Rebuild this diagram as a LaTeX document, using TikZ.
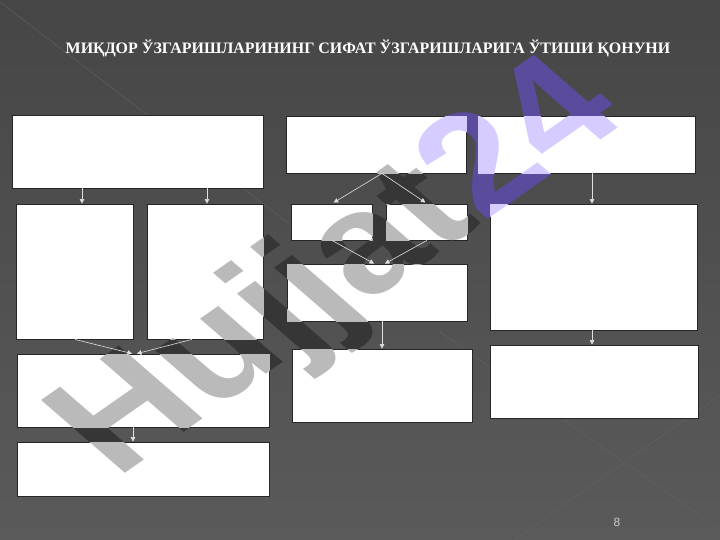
\documentclass[tikz,border=0pt]{standalone}
\usepackage{fontspec}
\setmainfont{Liberation Serif}
\newfontfamily\sansfont{Liberation Sans}
\usetikzlibrary{arrows.meta}
\definecolor{bgtop}{HTML}{464646}
\definecolor{bgbot}{HTML}{5A5A5A}
\definecolor{facet}{HTML}{636363}
\definecolor{wmdark}{HTML}{363636}
\definecolor{wmlight}{HTML}{BABABA}
\definecolor{wmvdark}{HTML}{5A4B9C}
\definecolor{wmvlight}{HTML}{D6CCFF}
\tikzset{
  box/.style 2 args={draw=black!85, fill=white, line width=0.8bp, inner sep=0pt,
    minimum width=#1bp, minimum height=#2bp},
  arr/.style={draw=white!88!black, line width=0.6bp,
    -{Triangle[length=4.5bp,width=4.5bp]}},
  wm/.style={cm={0.819,0.574,-0.755,0.656,(0,0)}, inner sep=0pt,
    font=\sansfont\bfseries\fontsize{162}{162}\selectfont},
}
\newcommand\wmtext[2]{{\color{#1}Hujjat}{\color{#2}24}}
\begin{document}
\begin{tikzpicture}[x=1bp,y=-1bp]
\useasboundingbox (0,0) rectangle (720,540);
\shade[top color=bgtop, bottom color=bgbot] (0,0) rectangle (720,540);
\draw[facet] (0,2) -- (300,232);
\draw[facet] (514,540) -- (720,395);
\draw[facet] (440,332) -- (720,530);

% watermark, dark part
\node[wm] (wma) at (342,272) {\wmtext{wmdark}{wmvdark}};

% boxes
\node[box={251}{73}] (A) at (137.5,151.5) {};
\node[box={180}{57}] (B) at (376,144.5) {};
\node[box={217}{57}] (C) at (586.5,144.5) {};
\node[box={117}{135}] (D) at (74.5,271.5) {};
\node[box={116}{135}] (E) at (205,271.5) {};
\node[box={81}{36}] (F) at (331.5,222) {};
\node[box={81}{36}] (G) at (426.5,222) {};
\node[box={180}{57}] (H) at (377,292.5) {};
\node[box={207}{126}] (I) at (593.5,267) {};
\node[box={252}{73}] (J) at (143,390.5) {};
\node[box={252}{54}] (K) at (143,469) {};
\node[box={180}{73}] (L) at (382,385.5) {};
\node[box={208}{73}] (M) at (594,381.5) {};

% watermark, light part on the boxes
\begin{scope}
\clip (A.north west) rectangle (A.south east) (B.north west) rectangle (B.south east)
  (C.north west) rectangle (C.south east) (D.north west) rectangle (D.south east)
  (E.north west) rectangle (E.south east) (F.north west) rectangle (F.south east)
  (G.north west) rectangle (G.south east) (H.north west) rectangle (H.south east)
  (I.north west) rectangle (I.south east) (J.north west) rectangle (J.south east)
  (K.north west) rectangle (K.south east) (L.north west) rectangle (L.south east)
  (M.north west) rectangle (M.south east);
\node[wm] (wmb) at (342,272) {\wmtext{wmlight}{wmvlight}};
\end{scope}

% arrows
\draw[arr] (A.south -| 82,0) -- (D.north -| 82,0);
\draw[arr] (A.south -| 207,0) -- (E.north -| 207,0);
\draw[arr, shorten >=2bp] (B.south -| 382,0) -- (F.north -| 332,0);
\draw[arr, shorten >=2bp] (B.south -| 382,0) -- (G.north -| 427,0);
\draw[arr] (F.south -| 332,0) -- (H.north -| 374,0);
\draw[arr] (G.south -| 427,0) -- (H.north -| 385,0);
\draw[arr] (C.south -| 592,0) -- (I.north -| 592,0);
\draw[arr] (H.south -| 382,0) -- (L.north -| 382,0);
\draw[arr] (I.south -| 592,0) -- (M.north -| 592,0);
\draw[arr] (D.south -| 75,0) -- (J.north -| 132,0);
\draw[arr] (E.south -| 192,0) -- (J.north -| 137,0);
\draw[arr] (J.south -| 133,0) -- (K.north -| 133,0);

\node[font=\bfseries\fontsize{16}{18}\selectfont, text=white] (title) at (368,48)
  {МИҚДОР ЎЗГАРИШЛАРИНИНГ СИФАТ ЎЗГАРИШЛАРИГА ЎТИШИ ҚОНУНИ};
\node[font=\sansfont\fontsize{12}{13}\selectfont, text=white!80!black] (pg) at (617,522) {8};
\end{tikzpicture}
\end{document}
